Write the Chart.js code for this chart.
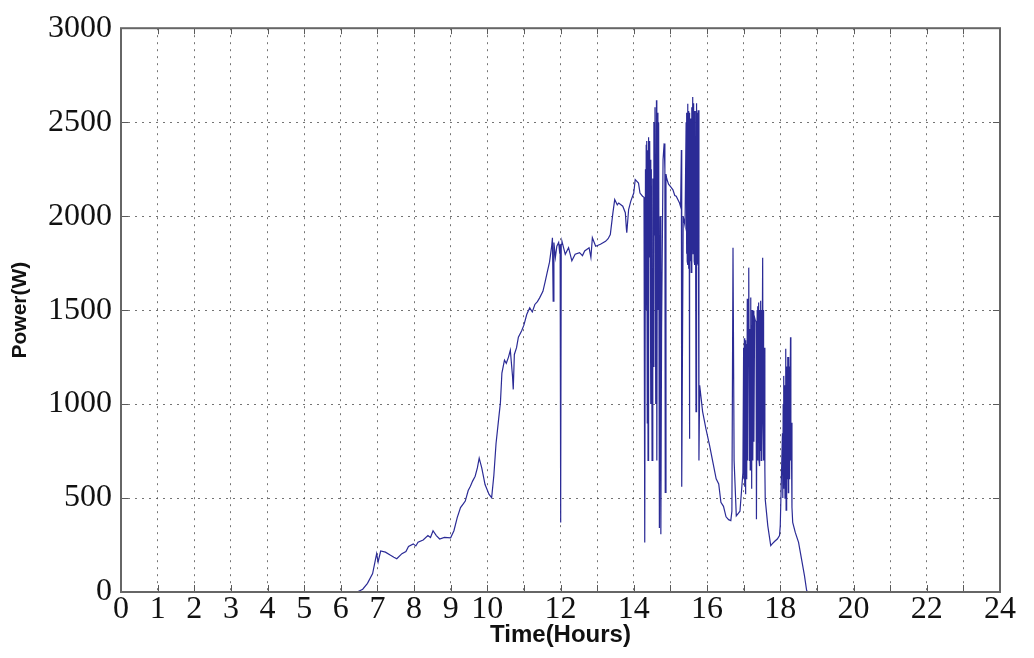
<!DOCTYPE html>
<html>
<head>
<meta charset="utf-8">
<script src="https://cdn.jsdelivr.net/npm/chart.js@4/dist/chart.umd.min.js"></script>
<style>
  html, body { margin: 0; padding: 0; background: #fff; }
</style>
</head>
<body>
<canvas id="powerChart" width="1034" height="658"></canvas>
<script>
// Measured PV power over one day (hour of day, watts)
const hours = [
  6.45, 6.6, 6.73, 6.87, 6.98, 7.02, 7.09, 7.22, 7.36, 7.45, 7.53, 7.67, 7.78, 7.85, 7.98,
  8.05, 8.11, 8.25, 8.38, 8.45, 8.52, 8.61, 8.7, 8.83, 9.0, 9.09, 9.18, 9.27, 9.35, 9.4,
  9.48, 9.54, 9.6, 9.67, 9.73, 9.78, 9.85, 9.94, 10.05, 10.12, 10.18, 10.24, 10.3, 10.36, 10.4,
  10.47, 10.52, 10.58, 10.63, 10.69, 10.71, 10.74, 10.8, 10.85, 10.94, 11.0, 11.08, 11.16, 11.23, 11.3,
  11.37, 11.43, 11.52, 11.58, 11.64, 11.7, 11.76, 11.78, 11.8, 11.82, 11.86, 11.9, 11.95, 11.98, 11.99,
  12.0, 12.005, 12.01, 12.02, 12.04, 12.13, 12.22, 12.31, 12.4, 12.52, 12.6, 12.66, 12.78, 12.83, 12.87,
  12.96, 13.09, 13.23, 13.3, 13.36, 13.43, 13.48, 13.55, 13.59, 13.7, 13.77, 13.8, 13.81, 13.86, 13.92,
  14.0, 14.04, 14.13, 14.17, 14.24, 14.28, 14.3, 14.32, 14.33, 14.34, 14.35, 14.36, 14.37, 14.38, 14.39,
  14.4, 14.41, 14.42, 14.43, 14.44, 14.45, 14.46, 14.47, 14.48, 14.5, 14.52, 14.53, 14.55, 14.56, 14.58,
  14.6, 14.62, 14.63, 14.65, 14.66, 14.68, 14.7, 14.72, 14.74, 14.76, 14.8, 14.83, 14.85, 14.86, 14.88,
  14.9, 14.95, 15.0, 15.07, 15.12, 15.16, 15.2, 15.25, 15.28, 15.3, 15.31, 15.35, 15.4, 15.43, 15.44,
  15.45, 15.46, 15.47, 15.48, 15.49, 15.5, 15.51, 15.52, 15.53, 15.54, 15.55, 15.56, 15.57, 15.58, 15.59,
  15.61, 15.62, 15.63, 15.64, 15.65, 15.66, 15.67, 15.68, 15.7, 15.71, 15.72, 15.73, 15.74, 15.75, 15.76,
  15.78, 15.8, 15.84, 15.88, 15.97, 16.07, 16.16, 16.25, 16.32, 16.38, 16.45, 16.52, 16.59, 16.65, 16.68,
  16.71, 16.74, 16.8, 16.86, 16.9, 16.98, 17.0, 17.01, 17.02, 17.03, 17.04, 17.05, 17.06, 17.07, 17.08,
  17.09, 17.1, 17.11, 17.12, 17.14, 17.16, 17.17, 17.18, 17.19, 17.2, 17.21, 17.22, 17.23, 17.25, 17.27,
  17.28, 17.3, 17.32, 17.34, 17.35, 17.37, 17.38, 17.39, 17.4, 17.41, 17.42, 17.43, 17.44, 17.45, 17.46,
  17.47, 17.48, 17.49, 17.5, 17.52, 17.53, 17.54, 17.55, 17.56, 17.58, 17.59, 17.66, 17.74, 17.78, 17.85,
  17.92, 17.98, 18.0, 18.06, 18.07, 18.08, 18.09, 18.1, 18.11, 18.12, 18.13, 18.15, 18.16, 18.17, 18.18,
  18.19, 18.2, 18.21, 18.22, 18.23, 18.24, 18.25, 18.26, 18.28, 18.29, 18.3, 18.32, 18.34, 18.41, 18.5,
  18.58, 18.66, 18.72, 18.75
];
const powerW = [
  0, 15, 46, 98, 204, 160, 218, 212, 195, 185, 177, 204, 215, 242, 256,
  245, 265, 277, 300, 290, 326, 300, 282, 291, 288, 326, 396, 449, 470, 484,
  540, 563, 590, 616, 660, 712, 660, 572, 519, 502, 620, 790, 900, 1009, 1165,
  1234, 1217, 1250, 1286, 1148, 1078, 1264, 1300, 1356, 1390, 1420, 1478, 1512, 1490, 1530,
  1545, 1565, 1600, 1650, 1703, 1755, 1842, 1885, 1547, 1860, 1780, 1840, 1860, 1800, 1850,
  370, 1700, 450, 1850, 1866, 1797, 1832, 1762, 1797, 1806, 1790, 1815, 1832, 1780, 1885,
  1840, 1850, 1866, 1880, 1902, 2016, 2088, 2060, 2070, 2053, 2018, 1930, 1912, 2035, 2080,
  2123, 2194, 2176, 2123, 2106, 2100, 263, 2250, 1500, 2380, 1700, 2400, 900, 2350, 700,
  2420, 1800, 2380, 1780, 2400, 1820, 2300, 1000, 2250, 700, 2200, 1200, 2500, 1900, 2580,
  1000, 2616, 700, 2550, 1500, 2500, 340, 2000, 307, 1400, 2300, 2387, 2250, 530, 2224,
  2200, 2170, 2158, 2140, 2110, 2106, 2090, 2070, 2050, 2352, 560, 2000, 1950, 2500, 1800,
  2550, 1760, 2598, 1740, 2560, 1720, 2550, 815, 2480, 2450, 1760, 2520, 1700, 2580, 1780,
  2634, 1800, 2600, 2500, 1760, 2560, 1740, 2560, 960, 2600, 2580, 1760, 2550, 1750, 2563,
  700, 1100, 1030, 960, 869, 780, 691, 602, 575, 477, 456, 400, 385, 380, 430,
  1832, 700, 405, 420, 430, 634, 1300, 600, 1350, 560, 1320, 520, 1340, 620, 1320,
  600, 1560, 700, 1400, 1726, 700, 1400, 650, 1567, 900, 1420, 550, 1500, 700, 1497,
  800, 1460, 1444, 1440, 387, 1500, 700, 1520, 800, 1540, 700, 1500, 670, 1480, 750,
  1550, 700, 1500, 800, 1778, 900, 1500, 700, 1300, 650, 493, 352, 247, 256, 270,
  282, 300, 352, 845, 500, 1000, 550, 1150, 600, 1100, 500, 1294, 436, 1200, 528,
  1150, 600, 1250, 528, 1250, 700, 1200, 600, 1356, 700, 900, 450, 370, 317, 264,
  176, 88, 9, 0
];

// Hours that carry a printed label on the time axis
const xTickValues = [0, 1, 2, 3, 4, 5, 6, 7, 8, 9, 10, 12, 14, 16, 18, 20, 22, 24];

// Box round the plot plus short inward tick marks on all four sides
const frameTicks = {
  id: 'frameTicks',
  afterDatasetsDraw(chart) {
    const { ctx, chartArea: a, scales: { x, y } } = chart;
    ctx.save();
    ctx.strokeStyle = '#5a5a5a';
    ctx.lineWidth = 1;
    ctx.beginPath();
    x.ticks.forEach(t => {
      const px = Math.round(x.getPixelForValue(t.value)) + 0.5;
      ctx.moveTo(px, a.bottom); ctx.lineTo(px, a.bottom - 7);
      ctx.moveTo(px, a.top); ctx.lineTo(px, a.top + 6);
    });
    y.ticks.forEach(t => {
      const py = Math.round(y.getPixelForValue(t.value)) + 0.5;
      ctx.moveTo(a.left, py); ctx.lineTo(a.left + 7, py);
      ctx.moveTo(a.right, py); ctx.lineTo(a.right - 7, py);
    });
    ctx.stroke();
    ctx.lineWidth = 2;
    ctx.strokeStyle = '#666';
    ctx.strokeRect(a.left, a.top, a.right - a.left, a.bottom - a.top);
    ctx.restore();
  }
};

const gridColor = 'rgba(70, 70, 70, 0.75)';
const tickFont = { family: '"Liberation Serif", "DejaVu Serif", serif', size: 32 };

new Chart(document.getElementById('powerChart').getContext('2d'), {
  type: 'line',
  data: {
    datasets: [{
      data: hours.map((h, i) => ({ x: h, y: powerW[i] })),
      borderColor: '#2b2b96',
      borderWidth: 1.2,
      pointRadius: 0,
      tension: 0,
      fill: false
    }]
  },
  options: {
    responsive: false,
    animation: false,
    devicePixelRatio: 1,
    layout: { padding: { top: 22, right: 34, left: 4, bottom: 4 } },
    plugins: {
      legend: { display: false },
      tooltip: { enabled: false }
    },
    scales: {
      x: {
        type: 'linear',
        min: 0,
        max: 24,
        afterFit: scale => { scale.height = 62; },
        ticks: {
          stepSize: 1,
          autoSkip: false,
          maxRotation: 0,
          padding: -2,
          color: '#111',
          font: tickFont,
          callback: v => xTickValues.includes(v) ? String(v) : ''
        },
        grid: { color: gridColor, lineWidth: 1, drawTicks: false },
        border: { display: false, dash: [2, 5] },
        title: {
          display: true,
          text: 'Time(Hours)',
          color: '#111',
          font: { family: '"Liberation Sans", Arial, sans-serif', size: 24, weight: 'bold' },
          padding: { top: 0, bottom: 4 }
        }
      },
      y: {
        min: 0,
        max: 3000,
        afterFit: scale => { scale.width = 117; },
        ticks: {
          stepSize: 500,
          padding: 9,
          color: '#111',
          font: tickFont,
          callback: v => String(v)
        },
        grid: { color: gridColor, lineWidth: 1, drawTicks: false },
        border: { display: false, dash: [2, 5] },
        title: {
          display: true,
          text: 'Power(W)',
          color: '#111',
          font: { family: '"Liberation Sans", Arial, sans-serif', size: 21, weight: 'bold' },
          padding: { top: 4, bottom: 0 }
        }
      }
    }
  },
  plugins: [frameTicks]
});
</script>
</body>
</html>
